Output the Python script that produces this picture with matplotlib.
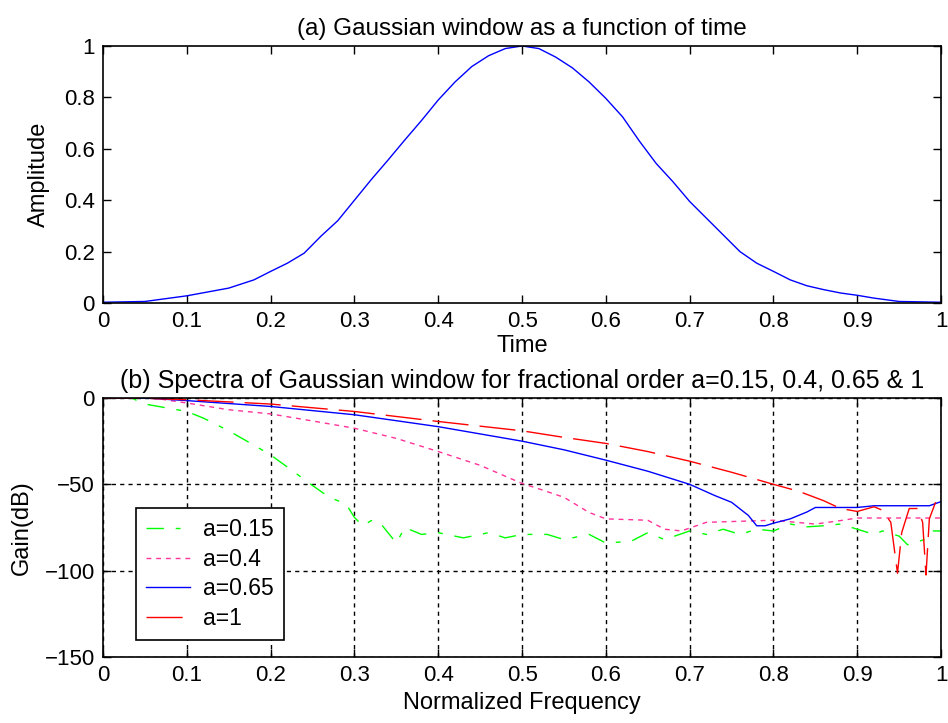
import matplotlib
matplotlib.use("Agg")
import matplotlib.pyplot as plt
import numpy as np

plt.rcParams['font.family'] = ['Liberation Sans', 'DejaVu Sans']

# (a) Gaussian window
t = [0.0, 0.05, 0.1, 0.15, 0.18, 0.2, 0.22, 0.24, 0.26, 0.28, 0.3, 0.32, 0.34,
     0.36, 0.38, 0.4, 0.42, 0.44, 0.46, 0.48, 0.5, 0.52, 0.54, 0.56, 0.58, 0.6,
     0.62, 0.64, 0.66, 0.68, 0.7, 0.72, 0.74, 0.76, 0.78, 0.8, 0.82, 0.84, 0.86,
     0.88, 0.9, 0.92, 0.95, 1.0]
amp = [0.003, 0.006, 0.028, 0.058, 0.09, 0.123, 0.155, 0.194, 0.26, 0.32, 0.40,
       0.48, 0.556, 0.634, 0.71, 0.79, 0.86, 0.92, 0.962, 0.99, 1.0, 0.99, 0.957,
       0.915, 0.86, 0.796, 0.724, 0.63, 0.543, 0.472, 0.395, 0.33, 0.265, 0.2,
       0.155, 0.123, 0.09, 0.067, 0.052, 0.039, 0.03, 0.019, 0.006, 0.003]

# (b) spectra, gain in dB
f_015 = [0.0, 0.034, 0.05, 0.1, 0.12, 0.15, 0.18, 0.2, 0.22, 0.25, 0.27, 0.29, 0.3,
         0.31, 0.32, 0.33, 0.35, 0.36, 0.38, 0.4, 0.43, 0.46, 0.48, 0.5, 0.53,
         0.55, 0.58, 0.6, 0.63, 0.65, 0.67, 0.7, 0.72, 0.74, 0.76, 0.78, 0.8,
         0.82, 0.84, 0.86, 0.88, 0.9, 0.92, 0.93, 0.95, 0.96, 0.98, 0.99, 1.0]
g_015 = [0.0, 0.0, -3.5, -7.8, -11.7, -19, -27.3, -33, -40, -50.7, -57.5, -61.4,
         -69.2, -74, -71, -72, -84, -75, -79, -78, -81, -78, -81, -79, -79,
         -82, -79, -84, -83, -78, -82, -77, -79, -76, -79, -76, -77, -73, -74.6,
         -74, -73, -76, -79, -77, -80, -85, -82, -77, -77]

f_04 = [0.0, 0.06, 0.1, 0.15, 0.2, 0.25, 0.3, 0.35, 0.4, 0.45, 0.5, 0.52, 0.55,
        0.58, 0.6, 0.65, 0.67, 0.69, 0.72, 0.8, 0.85, 0.88, 0.9, 1.0]
g_04 = [0.0, 0.0, -2.9, -6.8, -9.2, -13.3, -17.5, -23.4, -31, -39, -49.5, -52.6,
        -57.5, -66.3, -70, -70.8, -76, -77, -72, -70.8, -73, -71, -69.5, -69.5]

f_065 = [0.0, 0.05, 0.1, 0.2, 0.3, 0.4, 0.5, 0.55, 0.6, 0.65, 0.7, 0.73, 0.75,
         0.77, 0.78, 0.79, 0.8, 0.82, 0.84, 0.85, 0.9, 0.92, 0.986, 1.0]
g_065 = [0.0, 0.0, -1.5, -4.9, -9.7, -16.6, -25, -30, -36, -42.4, -50, -56.5,
         -60.4, -68, -74, -74, -72.5, -70, -66, -63.4, -63.4, -62.4, -62.4, -60]

f_1 = [0.0, 0.04, 0.1, 0.2, 0.3, 0.4, 0.5, 0.55, 0.6, 0.65, 0.7, 0.75, 0.8, 0.83,
       0.86, 0.88, 0.9, 0.92, 0.93, 0.94, 0.948, 0.953, 0.962, 0.972, 0.978,
       0.982, 0.986, 0.996, 1.0]
g_1 = [0.0, 0.0, -1, -3.5, -7.8, -13.6, -19, -22.8, -26.3, -31, -36.6, -43, -50,
       -54, -59.5, -64, -65.7, -63, -65, -72, -101.5, -78, -64, -64, -72,
       -102.5, -70, -57, -54]

xticklabels = ['0', '0.1', '0.2', '0.3', '0.4', '0.5', '0.6', '0.7', '0.8', '0.9', '1']

fig = plt.figure(figsize=(9.48, 7.23), dpi=100)

ax1 = fig.add_axes([0.1087, 0.5809, 0.884, 0.3555])
ax1.plot(t, amp, color='blue', lw=1.0)
ax1.set_xlim(0, 1)
ax1.set_ylim(0, 1)
ax1.set_xticks(np.arange(0, 1.01, 0.1))
ax1.set_xticklabels(xticklabels)
ax1.set_yticks(np.arange(0, 1.01, 0.2))
ax1.set_yticklabels(['0', '0.2', '0.4', '0.6', '0.8', '1'])
ax1.set_title('(a) Gaussian window as a function of time', fontsize=17.5, pad=8)
ax1.set_xlabel('Time', fontsize=17, labelpad=2)
ax1.set_ylabel('Amplitude', fontsize=17, labelpad=10)

ax2 = fig.add_axes([0.1087, 0.0913, 0.884, 0.3582])
ax2.plot(f_015, g_015, color=(0, 1, 0), lw=1.0, dashes=(12.5, 8.5, 3.5, 8.5), label='a=0.15')
ax2.plot(f_04, g_04, color=(1, 0.2, 0.6), lw=1.0, dashes=(3.5, 3.5), label='a=0.4')
ax2.plot(f_065, g_065, color='blue', lw=1.0, label='a=0.65')
ax2.plot(f_1, g_1, color='red', lw=1.0, dashes=(26, 8), label='a=1')
ax2.set_xlim(0, 1)
ax2.set_ylim(-150, 0)
ax2.set_xticks(np.arange(0, 1.01, 0.1))
ax2.set_xticklabels(xticklabels)
ax2.set_yticks([-150, -100, -50, 0])
ax2.grid(True, color='black', linestyle=(0, (3, 3)), lw=1.0)
ax2.set_axisbelow(True)
ax2.set_title('(b) Spectra of Gaussian window for fractional order a=0.15, 0.4, 0.65 & 1',
              fontsize=18, pad=7)
ax2.set_xlabel('Normalized Frequency', fontsize=17, labelpad=4)
ax2.set_ylabel('Gain(dB)', fontsize=17, labelpad=8)

leg = ax2.legend(loc='upper left', bbox_to_anchor=(0.039, 0.575), borderaxespad=0,
                 fontsize=16.5, fancybox=False, framealpha=1, edgecolor='black',
                 handlelength=1.9, handletextpad=0.6, labelspacing=0.28,
                 borderpad=0.45)
leg.get_frame().set_linewidth(1.2)

for ax in (ax1, ax2):
    ax.tick_params(direction='in', top=True, right=True, length=6, width=1,
                   labelsize=16, pad=6)
    for s in ax.spines.values():
        s.set_linewidth(1.2)

fig.savefig('out.png', dpi=100)
